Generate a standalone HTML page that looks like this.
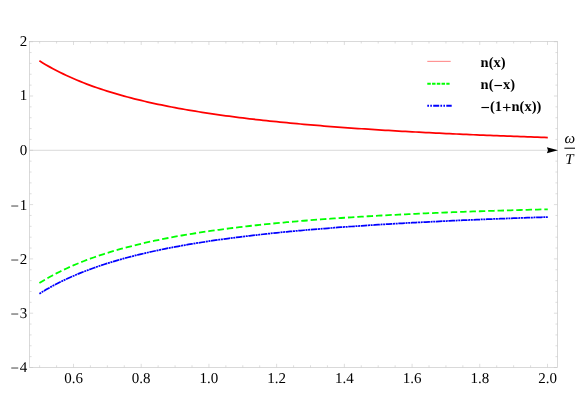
<!DOCTYPE html>
<html><head><meta charset="utf-8"><style>html,body{margin:0;padding:0;background:#fff}svg{display:block}.t{font-family:"Liberation Serif",serif;text-rendering:geometricPrecision;filter:grayscale(1)}</style></head>
<body><svg width="582" height="396" viewBox="0 0 582 396">
<rect width="582" height="396" fill="#fff"/>
<rect x="29.6" y="41.5" width="527.85" height="325.8" fill="none" stroke="#c0c0c0" stroke-width="0.6"/>
<line x1="29.6" x2="549.45" y1="150.3" y2="150.3" stroke="#c8c8c8" stroke-width="0.7"/>
<path d="M39.64 367.3v-2M39.64 41.5v2M56.57 367.3v-2M56.57 41.5v2M73.50 367.3v-3.5M73.50 41.5v3.5M90.43 367.3v-2M90.43 41.5v2M107.36 367.3v-2M107.36 41.5v2M124.29 367.3v-2M124.29 41.5v2M141.21 367.3v-3.5M141.21 41.5v3.5M158.14 367.3v-2M158.14 41.5v2M175.07 367.3v-2M175.07 41.5v2M192.00 367.3v-2M192.00 41.5v2M208.93 367.3v-3.5M208.93 41.5v3.5M225.86 367.3v-2M225.86 41.5v2M242.79 367.3v-2M242.79 41.5v2M259.71 367.3v-2M259.71 41.5v2M276.64 367.3v-3.5M276.64 41.5v3.5M293.57 367.3v-2M293.57 41.5v2M310.50 367.3v-2M310.50 41.5v2M327.43 367.3v-2M327.43 41.5v2M344.36 367.3v-3.5M344.36 41.5v3.5M361.28 367.3v-2M361.28 41.5v2M378.21 367.3v-2M378.21 41.5v2M395.14 367.3v-2M395.14 41.5v2M412.07 367.3v-3.5M412.07 41.5v3.5M429.00 367.3v-2M429.00 41.5v2M445.93 367.3v-2M445.93 41.5v2M462.86 367.3v-2M462.86 41.5v2M479.78 367.3v-3.5M479.78 41.5v3.5M496.71 367.3v-2M496.71 41.5v2M513.64 367.3v-2M513.64 41.5v2M530.57 367.3v-2M530.57 41.5v2M547.50 367.3v-3.5M547.50 41.5v3.5M29.6 367.50h3.5M557.45 367.50h-3.5M29.6 356.64h2M557.45 356.64h-2M29.6 345.78h2M557.45 345.78h-2M29.6 334.92h2M557.45 334.92h-2M29.6 324.06h2M557.45 324.06h-2M29.6 313.20h3.5M557.45 313.20h-3.5M29.6 302.34h2M557.45 302.34h-2M29.6 291.48h2M557.45 291.48h-2M29.6 280.62h2M557.45 280.62h-2M29.6 269.76h2M557.45 269.76h-2M29.6 258.90h3.5M557.45 258.90h-3.5M29.6 248.04h2M557.45 248.04h-2M29.6 237.18h2M557.45 237.18h-2M29.6 226.32h2M557.45 226.32h-2M29.6 215.46h2M557.45 215.46h-2M29.6 204.60h3.5M557.45 204.60h-3.5M29.6 193.74h2M557.45 193.74h-2M29.6 182.88h2M557.45 182.88h-2M29.6 172.02h2M557.45 172.02h-2M29.6 161.16h2M557.45 161.16h-2M29.6 150.30h3.5M557.45 150.30h-3.5M29.6 139.44h2M557.45 139.44h-2M29.6 128.58h2M557.45 128.58h-2M29.6 117.72h2M557.45 117.72h-2M29.6 106.86h2M557.45 106.86h-2M29.6 96.00h3.5M557.45 96.00h-3.5M29.6 85.14h2M557.45 85.14h-2M29.6 74.28h2M557.45 74.28h-2M29.6 63.42h2M557.45 63.42h-2M29.6 52.56h2M557.45 52.56h-2M29.6 41.70h3.5M557.45 41.70h-3.5" stroke="#c8c8c8" stroke-width="0.6" fill="none"/>
<polyline points="39.40,60.84 42.79,62.93 46.18,64.94 49.57,66.87 52.96,68.73 56.35,70.52 59.74,72.25 63.13,73.91 66.51,75.52 69.90,77.07 73.29,78.56 76.68,80.01 80.07,81.41 83.46,82.76 86.85,84.07 90.24,85.34 93.63,86.57 97.02,87.76 100.41,88.91 103.80,90.03 107.19,91.12 110.58,92.18 113.96,93.20 117.35,94.20 120.74,95.17 124.13,96.11 127.52,97.03 130.91,97.92 134.30,98.79 137.69,99.64 141.08,100.46 144.47,101.26 147.86,102.04 151.25,102.81 154.64,103.55 158.03,104.27 161.41,104.98 164.80,105.67 168.19,106.35 171.58,107.01 174.97,107.65 178.36,108.28 181.75,108.89 185.14,109.49 188.53,110.08 191.92,110.65 195.31,111.21 198.70,111.76 202.09,112.30 205.48,112.82 208.87,113.34 212.25,113.84 215.64,114.34 219.03,114.82 222.42,115.29 225.81,115.76 229.20,116.21 232.59,116.66 235.98,117.09 239.37,117.52 242.76,117.94 246.15,118.35 249.54,118.76 252.93,119.15 256.32,119.54 259.70,119.92 263.09,120.30 266.48,120.67 269.87,121.03 273.26,121.38 276.65,121.73 280.04,122.07 283.43,122.41 286.82,122.74 290.21,123.06 293.60,123.38 296.99,123.69 300.38,124.00 303.77,124.30 307.15,124.60 310.54,124.89 313.93,125.18 317.32,125.46 320.71,125.74 324.10,126.02 327.49,126.29 330.88,126.55 334.27,126.81 337.66,127.07 341.05,127.32 344.44,127.57 347.83,127.81 351.22,128.05 354.60,128.29 357.99,128.52 361.38,128.75 364.77,128.98 368.16,129.20 371.55,129.42 374.94,129.64 378.33,129.85 381.72,130.06 385.11,130.27 388.50,130.47 391.89,130.67 395.28,130.87 398.67,131.07 402.06,131.26 405.44,131.45 408.83,131.64 412.22,131.82 415.61,132.00 419.00,132.18 422.39,132.36 425.78,132.53 429.17,132.71 432.56,132.88 435.95,133.04 439.34,133.21 442.73,133.37 446.12,133.53 449.51,133.69 452.89,133.85 456.28,134.00 459.67,134.16 463.06,134.31 466.45,134.45 469.84,134.60 473.23,134.75 476.62,134.89 480.01,135.03 483.40,135.17 486.79,135.31 490.18,135.44 493.57,135.58 496.96,135.71 500.34,135.84 503.73,135.97 507.12,136.10 510.51,136.22 513.90,136.35 517.29,136.47 520.68,136.59 524.07,136.71 527.46,136.83 530.85,136.95 534.24,137.06 537.63,137.18 541.02,137.29 544.41,137.40 547.79,137.51" fill="none" stroke="#ff0000" stroke-width="1.75"/>
<polyline points="39.40,283.03 42.79,280.95 46.18,278.95 49.57,277.03 52.96,275.18 56.35,273.40 59.74,271.69 63.13,270.03 66.51,268.44 69.90,266.90 73.29,265.41 76.68,263.98 80.07,262.59 83.46,261.25 86.85,259.95 90.24,258.69 93.63,257.48 97.02,256.30 100.41,255.16 103.80,254.05 107.19,252.97 110.58,251.93 113.96,250.91 117.35,249.93 120.74,248.97 124.13,248.05 127.52,247.14 130.91,246.26 134.30,245.41 137.69,244.58 141.08,243.77 144.47,242.98 147.86,242.21 151.25,241.46 154.64,240.73 158.03,240.02 161.41,239.33 164.80,238.66 168.19,238.00 171.58,237.35 174.97,236.73 178.36,236.11 181.75,235.51 185.14,234.93 188.53,234.36 191.92,233.80 195.31,233.26 198.70,232.72 202.09,232.20 205.48,231.69 208.87,231.20 212.25,230.71 215.64,230.23 219.03,229.77 222.42,229.31 225.81,228.87 229.20,228.43 232.59,228.00 235.98,227.58 239.37,227.17 242.76,226.77 246.15,226.38 249.54,225.99 252.93,225.61 256.32,225.24 259.70,224.88 263.09,224.53 266.48,224.18 269.87,223.84 273.26,223.50 276.65,223.17 280.04,222.85 283.43,222.53 286.82,222.22 290.21,221.92 293.60,221.62 296.99,221.33 300.38,221.04 303.77,220.76 307.15,220.48 310.54,220.21 313.93,219.94 317.32,219.68 320.71,219.42 324.10,219.17 327.49,218.92 330.88,218.68 334.27,218.44 337.66,218.21 341.05,217.98 344.44,217.75 347.83,217.53 351.22,217.31 354.60,217.09 357.99,216.88 361.38,216.67 364.77,216.47 368.16,216.27 371.55,216.07 374.94,215.88 378.33,215.69 381.72,215.50 385.11,215.32 388.50,215.14 391.89,214.96 395.28,214.78 398.67,214.61 402.06,214.44 405.44,214.28 408.83,214.11 412.22,213.95 415.61,213.79 419.00,213.64 422.39,213.49 425.78,213.34 429.17,213.19 432.56,213.04 435.95,212.90 439.34,212.76 442.73,212.62 446.12,212.48 449.51,212.35 452.89,212.22 456.28,212.09 459.67,211.96 463.06,211.84 466.45,211.71 469.84,211.59 473.23,211.47 476.62,211.35 480.01,211.24 483.40,211.12 486.79,211.01 490.18,210.90 493.57,210.79 496.96,210.69 500.34,210.58 503.73,210.48 507.12,210.38 510.51,210.28 513.90,210.18 517.29,210.08 520.68,209.99 524.07,209.89 527.46,209.80 530.85,209.71 534.24,209.62 537.63,209.53 541.02,209.44 544.41,209.36 547.79,209.28" fill="none" stroke="#00ff00" stroke-width="1.8" stroke-dasharray="6.44 2.92"/>
<polyline points="39.40,293.71 42.79,291.62 46.18,289.61 49.57,287.68 52.96,285.82 56.35,284.03 59.74,282.30 63.13,280.64 66.51,279.03 69.90,277.48 73.29,275.99 76.68,274.54 80.07,273.14 83.46,271.79 86.85,270.48 90.24,269.21 93.63,267.98 97.02,266.79 100.41,265.64 103.80,264.52 107.19,263.43 110.58,262.37 113.96,261.35 117.35,260.35 120.74,259.38 124.13,258.44 127.52,257.52 130.91,256.63 134.30,255.76 137.69,254.91 141.08,254.09 144.47,253.29 147.86,252.51 151.25,251.74 154.64,251.00 158.03,250.28 161.41,249.57 164.80,248.88 168.19,248.20 171.58,247.54 174.97,246.90 178.36,246.27 181.75,245.66 185.14,245.06 188.53,244.47 191.92,243.90 195.31,243.34 198.70,242.79 202.09,242.25 205.48,241.73 208.87,241.21 212.25,240.71 215.64,240.21 219.03,239.73 222.42,239.26 225.81,238.79 229.20,238.34 232.59,237.89 235.98,237.46 239.37,237.03 242.76,236.61 246.15,236.20 249.54,235.79 252.93,235.40 256.32,235.01 259.70,234.63 263.09,234.25 266.48,233.88 269.87,233.52 273.26,233.17 276.65,232.82 280.04,232.48 283.43,232.14 286.82,231.81 290.21,231.49 293.60,231.17 296.99,230.86 300.38,230.55 303.77,230.25 307.15,229.95 310.54,229.66 313.93,229.37 317.32,229.09 320.71,228.81 324.10,228.53 327.49,228.26 330.88,228.00 334.27,227.74 337.66,227.48 341.05,227.23 344.44,226.98 347.83,226.74 351.22,226.50 354.60,226.26 357.99,226.03 361.38,225.80 364.77,225.57 368.16,225.35 371.55,225.13 374.94,224.91 378.33,224.70 381.72,224.49 385.11,224.28 388.50,224.08 391.89,223.88 395.28,223.68 398.67,223.48 402.06,223.29 405.44,223.10 408.83,222.91 412.22,222.73 415.61,222.55 419.00,222.37 422.39,222.19 425.78,222.02 429.17,221.84 432.56,221.67 435.95,221.51 439.34,221.34 442.73,221.18 446.12,221.02 449.51,220.86 452.89,220.70 456.28,220.55 459.67,220.39 463.06,220.24 466.45,220.10 469.84,219.95 473.23,219.80 476.62,219.66 480.01,219.52 483.40,219.38 486.79,219.24 490.18,219.11 493.57,218.97 496.96,218.84 500.34,218.71 503.73,218.58 507.12,218.45 510.51,218.33 513.90,218.20 517.29,218.08 520.68,217.96 524.07,217.84 527.46,217.72 530.85,217.60 534.24,217.49 537.63,217.37 541.02,217.26 544.41,217.15 547.79,217.04" fill="none" stroke="#0000ff" stroke-width="1.75" stroke-dasharray="2.0 0.65 2.0 0.65 6.59 0.65"/>
<path d="M558.0 150.20000000000002 L546.9 147.20000000000002 L548.0 150.20000000000002 L546.9 153.20000000000002 Z" fill="#000"/>
<line x1="427.3" x2="450.7" y1="61.35" y2="61.35" stroke="#ff0000" stroke-width="0.5"/>
<line x1="427.3" x2="449.6" y1="83.8" y2="83.8" stroke="#00ff00" stroke-width="2" stroke-dasharray="3.5 1.25"/>
<line x1="427.3" x2="451.7" y1="105.8" y2="105.8" stroke="#0000ff" stroke-width="2" stroke-dasharray="1.7 1.3 1.6 1.3 6 1.2"/>
<g class="t" font-size="15" fill="#000">
<text x="27.3" y="45.80" text-anchor="end">2</text>
<text x="27.3" y="100.10" text-anchor="end">1</text>
<text x="27.3" y="154.80" text-anchor="end">0</text>
<text x="27.3" y="209.80" text-anchor="end"><tspan dy="0.9">−</tspan><tspan dx="0.8" dy="-0.9">1</tspan></text>
<text x="27.3" y="264.10" text-anchor="end"><tspan dy="0.9">−</tspan><tspan dx="0.8" dy="-0.9">2</tspan></text>
<text x="27.3" y="317.90" text-anchor="end"><tspan dy="0.9">−</tspan><tspan dx="0.8" dy="-0.9">3</tspan></text>
<text x="27.3" y="372.30" text-anchor="end"><tspan dy="0.9">−</tspan><tspan dx="0.8" dy="-0.9">4</tspan></text>
<text x="73.50" y="382.9" text-anchor="middle">0.6</text>
<text x="141.21" y="382.9" text-anchor="middle">0.8</text>
<text x="208.93" y="382.9" text-anchor="middle">1.0</text>
<text x="276.64" y="382.9" text-anchor="middle">1.2</text>
<text x="344.36" y="382.9" text-anchor="middle">1.4</text>
<text x="412.07" y="382.9" text-anchor="middle">1.6</text>
<text x="479.78" y="382.9" text-anchor="middle">1.8</text>
<text x="547.50" y="382.9" text-anchor="middle">2.0</text>
<g font-weight="bold" font-size="14.5">
<text x="480.6" y="66.7">n(x)</text>
<text x="480.6" y="88.9">n(<tspan font-size="16.5" dy="1.8">−</tspan><tspan dy="-1.8">x)</tspan></text>
<text x="480.6" y="111.0"><tspan font-size="16.5" dy="1.8">−</tspan><tspan dy="-1.8">(1</tspan><tspan font-size="16.5" dy="1.8">+</tspan><tspan dy="-1.8">n(x))</tspan></text>
</g>
<text x="569.7" y="142.5" text-anchor="middle" font-style="italic">ω</text>
<text x="569.4" y="163.6" text-anchor="middle" font-style="italic">T</text>
</g>
<rect x="564.4" y="147.7" width="10.6" height="1" fill="#000"/>
</svg></body></html>
